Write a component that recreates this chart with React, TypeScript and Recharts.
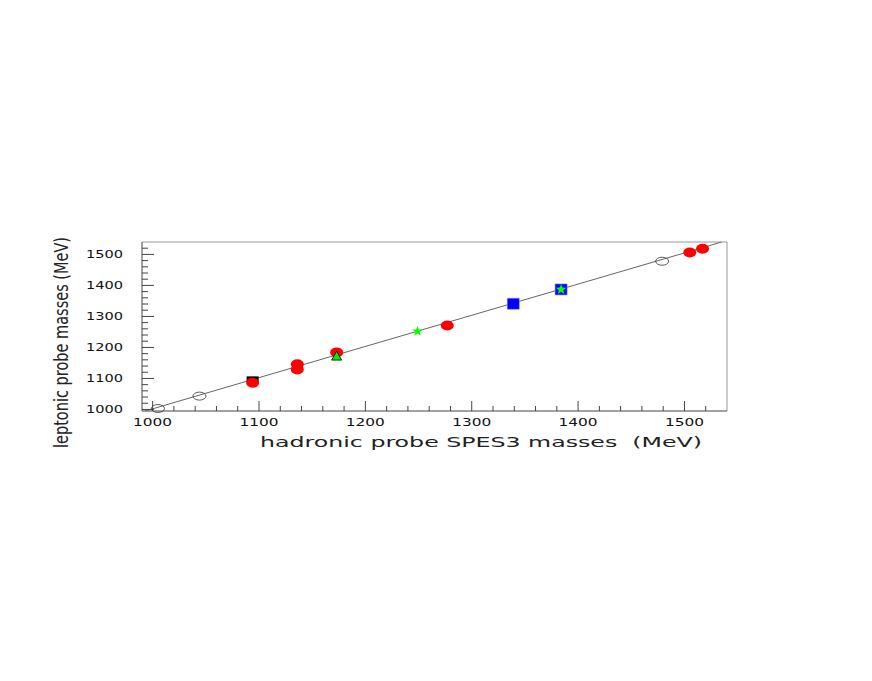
import { ScatterChart, Scatter, XAxis, YAxis, ReferenceLine } from 'recharts'

// hadronic (x) vs leptonic (y) masses, MeV
const openCircles = [
  { x: 1005, y: 1003 },
  { x: 1044, y: 1043 },
  { x: 1479, y: 1478 },
]
const blackMarks = [{ x: 1094, y: 1097 }]
const redCircles = [
  { x: 1094, y: 1086 },
  { x: 1136, y: 1146 },
  { x: 1136, y: 1129 },
  { x: 1173, y: 1184 },
  { x: 1277, y: 1271 },
  { x: 1505, y: 1506 },
  { x: 1517, y: 1518 },
]
const greenTriangles = [{ x: 1173, y: 1172 }]
const blueSquares = [
  { x: 1339, y: 1341 },
  { x: 1384, y: 1387 },
]
const greenStars = [
  { x: 1249, y: 1252 },
  { x: 1384, y: 1387 },
]
const fitLine = [
  { x: 993, y: 995 },
  { x: 1535, y: 1540 },
]

const xTicks = [
  1000, 1020, 1040, 1060, 1080, 1100, 1120, 1140, 1160, 1180, 1200, 1220, 1240, 1260, 1280,
  1300, 1320, 1340, 1360, 1380, 1400, 1420, 1440, 1460, 1480, 1500, 1520,
]
const yTicks = [
  1000, 1020, 1040, 1060, 1080, 1100, 1120, 1140, 1160, 1180, 1200, 1220, 1240, 1260, 1280,
  1300, 1320, 1340, 1360, 1380, 1400, 1420, 1440, 1460, 1480, 1500, 1520,
]

const AXIS = '#444'
const FONT = '"DejaVu Sans", sans-serif'

function XTick(props: any) {
  const { x, y, payload } = props
  const major = payload.value % 100 === 0
  return (
    <g>
      <line x1={x} y1={y} x2={x} y2={y - (major ? 10 : 5)} stroke={AXIS} />
      {major && (
        <text
          x={x}
          y={y + 15}
          textAnchor="middle"
          fontFamily={FONT}
          fontSize={10}
          textLength={39}
          lengthAdjust="spacingAndGlyphs"
          fill="#111"
        >
          {payload.value}
        </text>
      )}
    </g>
  )
}

function YTick(props: any) {
  const { x, y, payload } = props
  const major = payload.value % 100 === 0
  return (
    <g>
      <line x1={x} y1={y} x2={x + (major ? 12 : 6)} y2={y} stroke={AXIS} />
      {major && (
        <text
          x={x - 56}
          y={y + 4}
          textAnchor="start"
          fontFamily={FONT}
          fontSize={10}
          textLength={37}
          lengthAdjust="spacingAndGlyphs"
          fill="#111"
        >
          {payload.value}
        </text>
      )}
    </g>
  )
}

const redDot = (p: any) => <ellipse cx={p.cx} cy={p.cy} rx={6.5} ry={5} fill="#ff0000" />
const openDot = (p: any) => (
  <ellipse cx={p.cx} cy={p.cy} rx={6.5} ry={4} fill="none" stroke="#333" strokeWidth={0.8} />
)
const blackMark = (p: any) => <rect x={p.cx - 6} y={p.cy - 3} width={12} height={6} fill="#000" />
const blueSquare = (p: any) => (
  <rect x={p.cx - 6} y={p.cy - 5.5} width={12} height={11} fill="#0000ff" stroke="#8888ff" strokeWidth={0.6} />
)
const triangle = (p: any) => (
  <polygon
    points={`${p.cx},${p.cy - 5} ${p.cx - 5},${p.cy + 4} ${p.cx + 5},${p.cy + 4}`}
    fill="#00ee00"
    stroke="#000"
    strokeWidth={0.8}
  />
)
function star(p: any) {
  const pts: string[] = []
  for (let i = 0; i < 10; i++) {
    const r = i % 2 === 0 ? 5.5 : 2.3
    const a = -Math.PI / 2 + (i * Math.PI) / 5
    pts.push(`${p.cx + r * Math.cos(a)},${p.cy + r * Math.sin(a)}`)
  }
  return <polygon points={pts.join(' ')} fill="#00ff00" />
}
const noShape = () => <g />

export default function App() {
  return (
    <div style={{ position: 'absolute', left: 0, top: 0, background: '#fff' }}>
      <ScatterChart
        width={872}
        height={681}
        margin={{ top: 242, right: 145, bottom: 240, left: 82 }}
      >
        <XAxis
          type="number"
          dataKey="x"
          domain={[990, 1540]}
          ticks={xTicks}
          interval={0}
          height={30}
          tickSize={0}
          tickMargin={0}
          tick={XTick}
          tickLine={false}
          axisLine={{ stroke: AXIS }}
        />
        <YAxis
          type="number"
          dataKey="y"
          domain={[995, 1540]}
          ticks={yTicks}
          interval={0}
          width={60}
          tickSize={0}
          tickMargin={0}
          tick={YTick}
          tickLine={false}
          axisLine={{ stroke: AXIS }}
        />
        <ReferenceLine y={1540} stroke="#999" />
        <ReferenceLine x={1540} stroke="#999" />
        <Scatter data={fitLine} line={{ stroke: '#666', strokeWidth: 1 }} shape={noShape} isAnimationActive={false} />
        <Scatter data={openCircles} shape={openDot} isAnimationActive={false} />
        <Scatter data={blackMarks} shape={blackMark} isAnimationActive={false} />
        <Scatter data={redCircles} shape={redDot} isAnimationActive={false} />
        <Scatter data={greenTriangles} shape={triangle} isAnimationActive={false} />
        <Scatter data={blueSquares} shape={blueSquare} isAnimationActive={false} />
        <Scatter data={greenStars} shape={star} isAnimationActive={false} />
        <text
          x={260}
          y={447}
          fontFamily={FONT}
          fontSize={14}
          textLength={442}
          lengthAdjust="spacingAndGlyphs"
          fill="#222"
        >
          {'hadronic probe SPES3 masses\u00a0\u00a0(MeV)'}
        </text>
        <text
          transform="translate(68,448) rotate(-90)"
          fontFamily={FONT}
          fontSize={19}
          textLength={211}
          lengthAdjust="spacingAndGlyphs"
          fill="#222"
        >
          leptonic probe masses (MeV)
        </text>
      </ScatterChart>
    </div>
  )
}
